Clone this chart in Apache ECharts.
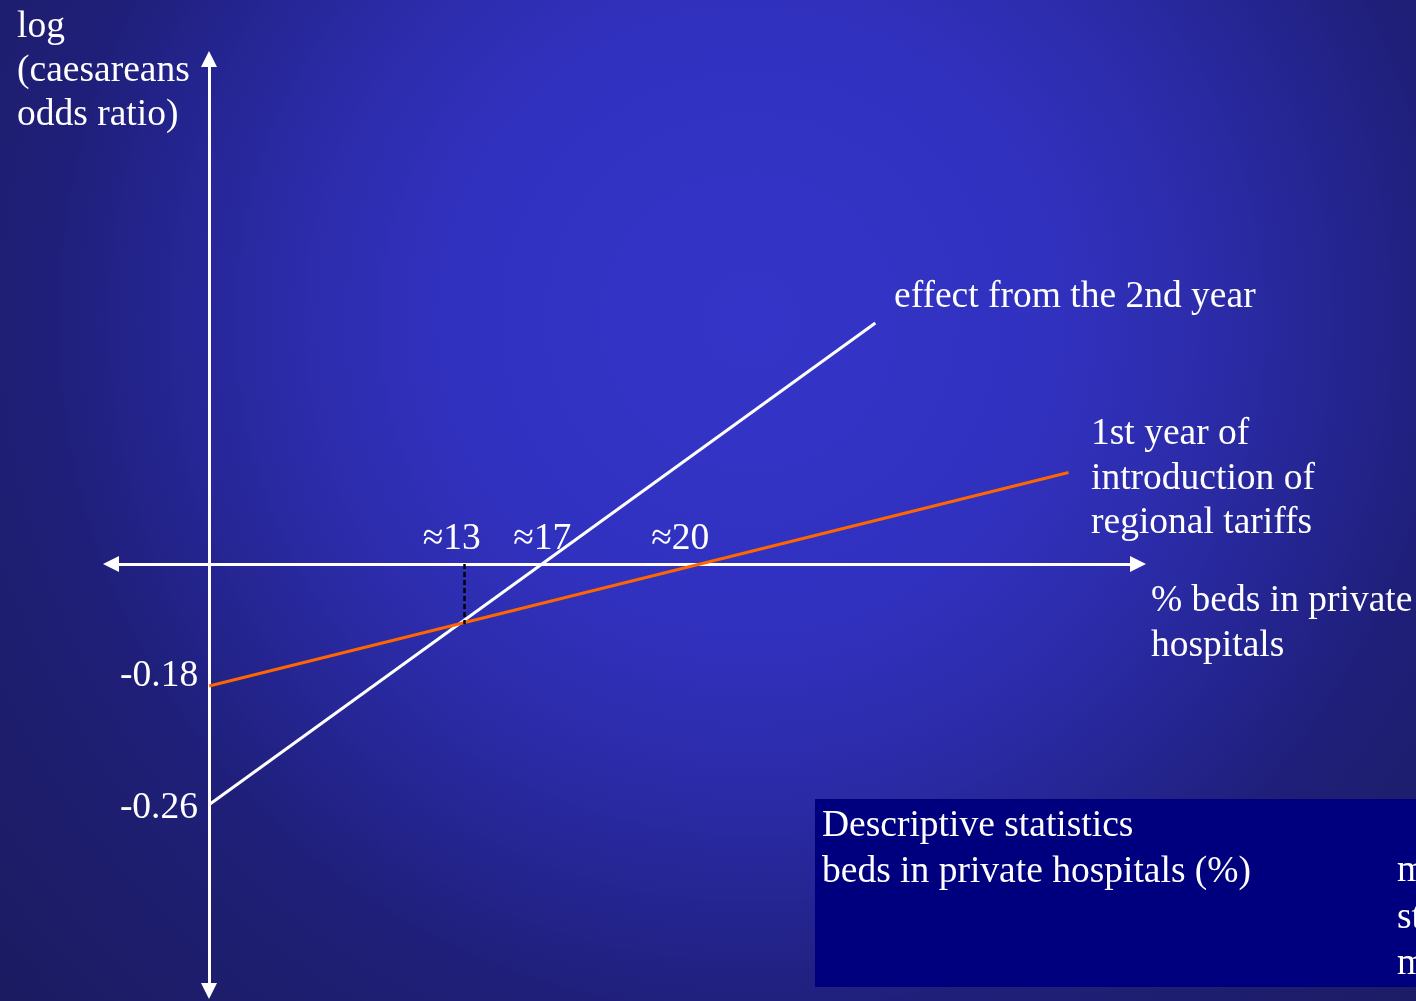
<!DOCTYPE html>
<html>
<head>
<meta charset="utf-8">
<title>Caesareans odds ratio vs private hospital beds</title>
<script src="https://cdn.jsdelivr.net/npm/echarts@6/dist/echarts.min.js"></script>
<style>
  html, body { margin: 0; padding: 0; width: 1416px; height: 1001px; overflow: hidden; }
  #chart { width: 1416px; height: 1001px; }
</style>
</head>
<body>
<div id="chart"></div>
<script>
// Effect from the 2nd year: % beds in private hospitals vs log(caesareans odds ratio)
const secondYearPct = [0, 34];
const secondYearLogOR = [-0.26, 0.26];
// 1st year of introduction of regional tariffs
const firstYearPct = [0, 35];
const firstYearLogOR = [-0.18, 0.135];

// Threshold annotations on the % axis
const secondYearZeroPct = 17;
const firstYearZeroPct = 20;
const crossingPct = 13;
const crossingLogOR = -0.065;

// Tick labels written next to the marks
const interceptLabels = ['-0.18', '-0.26'];
const thresholdLabels = ['\u224813', '\u224817', '\u224820'];

const FONT = '"Liberation Serif", "Times New Roman", serif';
const FS = 37.5;

function pairs(xs, ys) { return xs.map((x, i) => [x, ys[i]]); }

function textLabel(text, offset, align) {
  return {
    show: true, formatter: text, position: 'inside', offset: offset,
    align: align || 'center', verticalAlign: 'middle',
    color: '#ffffff', fontFamily: FONT, fontSize: FS
  };
}

const chart = echarts.init(document.getElementById('chart'), null, { renderer: 'canvas' });

const axisLineStyle = {
  show: true, onZero: true, onZeroAxisIndex: 0,
  symbol: ['triangle', 'triangle'], symbolSize: [16, 16],
  lineStyle: { color: '#ffffff', width: 3 }
};

const option = {
  animation: false,
  backgroundColor: {
    type: 'radial', x: 0.53, y: 0.32, r: 1,
    colorStops: [
      { offset: 0, color: '#3434c8' },
      { offset: 0.3, color: '#3131c0' },
      { offset: 0.45, color: '#2c2cab' },
      { offset: 0.6, color: '#24248f' },
      { offset: 0.7, color: '#1f1f7a' },
      { offset: 0.8, color: '#1e1e70' },
      { offset: 1, color: '#1b1b62' }
    ]
  },
  grid: { left: 111, right: 278, top: 59, bottom: 10, containLabel: false },
  xAxis: [
    {
      type: 'value', min: -5, max: 47.4,
      axisLine: axisLineStyle, axisTick: { show: false },
      axisLabel: { show: false }, splitLine: { show: false }
    },
    { type: 'value', min: -4, max: 37.83, show: false, splitLine: { show: false } }
  ],
  yAxis: [
    {
      type: 'value', min: -0.461, max: 0.545,
      axisLine: axisLineStyle, axisTick: { show: false },
      axisLabel: { show: false }, splitLine: { show: false }
    },
    { type: 'value', min: -0.630, max: 0.745, show: false, splitLine: { show: false } }
  ],
  series: [
    {
      name: 'effect from the 2nd year',
      type: 'line', xAxisIndex: 0, yAxisIndex: 0,
      data: pairs(secondYearPct, secondYearLogOR),
      symbol: 'none', silent: true, z: 3,
      lineStyle: { color: '#ffffff', width: 3 },
      markPoint: {
        symbol: 'circle', symbolSize: 0, silent: true,
        data: [
          { coord: [secondYearPct[0], secondYearLogOR[0]], label: textLabel(interceptLabels[1], [-11, 3], 'right') },
          { coord: [crossingPct, 0], label: textLabel(thresholdLabels[0], [-12, -25]) },
          { coord: [secondYearZeroPct, 0], label: textLabel(thresholdLabels[1], [0, -25]) }
        ]
      },
      markLine: {
        symbol: ['none', 'none'], silent: true,
        label: { show: false },
        lineStyle: { color: '#000000', width: 2.5, type: [5, 3] },
        data: [[{ coord: [crossingPct, 0] }, { coord: [crossingPct, crossingLogOR] }]]
      }
    },
    {
      name: '1st year of introduction of regional tariffs',
      type: 'line', xAxisIndex: 1, yAxisIndex: 1,
      data: pairs(firstYearPct, firstYearLogOR),
      symbol: 'none', silent: true, z: 4,
      lineStyle: { color: '#ff6600', width: 3 },
      markPoint: {
        symbol: 'circle', symbolSize: 0, silent: true,
        data: [
          { coord: [firstYearPct[0], firstYearLogOR[0]], label: textLabel(interceptLabels[0], [-11, -10], 'right') },
          { coord: [firstYearZeroPct, 0], label: textLabel(thresholdLabels[2], [-20, -25]) }
        ]
      }
    }
  ],
  graphic: [
    {
      type: 'text', left: 17, top: 5, silent: true,
      style: { text: 'log\n(caesareans\nodds ratio)', fill: '#ffffff', fontFamily: FONT, fontSize: FS, lineHeight: 44 }
    },
    {
      type: 'text', left: 894, top: 275, silent: true,
      style: { text: 'effect from the 2nd year', fill: '#ffffff', fontFamily: FONT, fontSize: FS, lineHeight: 44 }
    },
    {
      type: 'text', left: 1091, top: 412, silent: true,
      style: { text: '1st year of\nintroduction of\nregional tariffs', fill: '#ffffff', fontFamily: FONT, fontSize: FS, lineHeight: 44.5 }
    },
    {
      type: 'text', left: 1151, top: 579, silent: true,
      style: { text: '% beds in private\nhospitals', fill: '#ffffff', fontFamily: FONT, fontSize: FS, lineHeight: 44.5 }
    },
    {
      type: 'rect', left: 815, top: 799, silent: true, z: 1,
      shape: { width: 601, height: 188 },
      style: { fill: '#00007e' }
    },
    {
      type: 'text', left: 822, top: 803, silent: true, z: 2,
      style: { text: 'Descriptive statistics\nbeds in private hospitals (%)', fill: '#ffffff', fontFamily: FONT, fontSize: FS, lineHeight: 46 }
    },
    {
      type: 'text', x: 1397, y: 848, silent: true, z: 2,
      style: { text: 'm\nst\nm', fill: '#ffffff', fontFamily: FONT, fontSize: FS, lineHeight: 46.5 }
    }
  ]
};

chart.setOption(option);
</script>
</body>
</html>
